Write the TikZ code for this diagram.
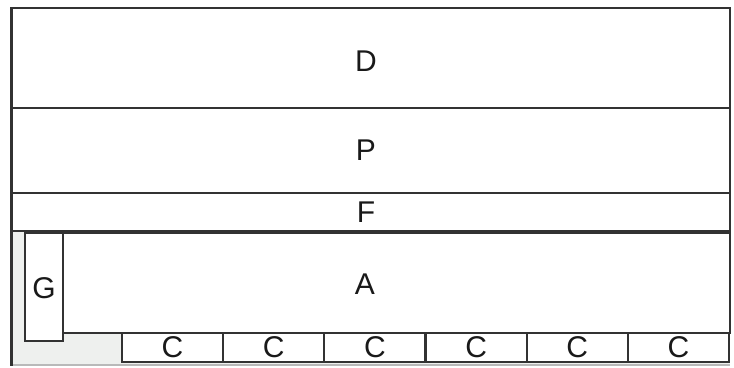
\documentclass[tikz,border=0pt]{standalone}
\usepackage{fontspec}
\setmainfont{Liberation Sans}
\definecolor{linec}{RGB}{50,50,50}
\definecolor{grayfill}{RGB}{238,240,238}
\definecolor{lightedge}{RGB}{185,185,185}
\begin{document}
\begin{tikzpicture}[x=1pt,y=-1pt,
  box/.style={draw=linec, line width=2.2pt, inner sep=0pt, outer sep=0pt, fill=white},
  lbl/.style={inner sep=0pt, font=\fontsize{30}{34}\selectfont, text=black!90}]
\useasboundingbox (0,0) rectangle (734,367);
% gray bottom region
\fill[grayfill] (11.5,231) rectangle (730,365);
\draw[lightedge, line width=1.5pt] (11.5,365) -- (730,365);
\draw[linec, line width=2.2pt] (11.5,231) -- (11.5,366);
% main bands
\node[box, minimum width=718.5pt, minimum height=100pt] (D) at (370.75,58) {};
\node[box, minimum width=718.5pt, minimum height=85pt] (P) at (370.75,150.5) {};
\node[box, minimum width=718.5pt, minimum height=38pt] (F) at (370.75,212) {};
\node[box, minimum width=38pt, minimum height=108pt] (G) at (44,287) {};
\node[box, minimum width=667pt, minimum height=100pt] (A) at (396.5,283) {};
% C boxes
\foreach \i in {0,...,5} {
  \pgfmathsetmacro{\cx}{122+101.17*\i+50.58}
  \node[box, minimum width=101.17pt, minimum height=29pt] (C\i) at (\cx,347.5) {};
  \node[lbl] (tC\i) at (\cx,346.7) {C};
}
% labels
\node[lbl] (tD) at (366,61.5) {D};
\node[lbl] (tP) at (366,150) {P};
\node[lbl] (tF) at (366,212) {F};
\node[lbl] (tG) at (44,288) {G};
\node[lbl] (tA) at (365,284) {A};
\end{tikzpicture}
\end{document}
